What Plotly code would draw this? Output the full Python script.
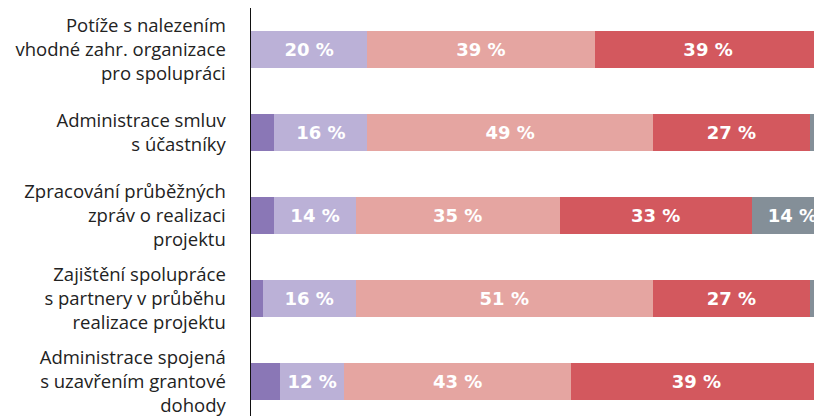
import plotly.graph_objects as go

categories = [
    "Potíže s nalezením<br>vhodné zahr. organizace<br>pro spolupráci",
    "Administrace smluv<br>s účastníky",
    "Zpracování průběžných<br>zpráv o realizaci<br>projektu",
    "Zajištění spolupráce<br>s partnery v průběhu<br>realizace projektu",
    "Administrace spojená<br>s uzavřením grantové<br>dohody",
]

# segment widths (%)
s1 = [0, 4, 4, 2, 5]
s2 = [20, 16, 14, 16, 11]
s3 = [39, 49, 35, 51, 39]
s4 = [39, 27, 33, 27, 43]
s5 = [2, 4, 14, 4, 2]

# labels printed on the segments
t1 = ["", "", "", "", ""]
t2 = ["20 %", "16 %", "14 %", "16 %", "12 %"]
t3 = ["39 %", "49 %", "35 %", "51 %", "43 %"]
t4 = ["39 %", "27 %", "33 %", "27 %", "39 %"]
t5 = ["", "", "14 %", "", ""]

colors = ["#8a77b6", "#bbb1d7", "#e5a5a1", "#d3585e", "#848f98"]

fig = go.Figure()
for vals, txt, col in zip([s1, s2, s3, s4, s5], [t1, t2, t3, t4, t5], colors):
    fig.add_trace(go.Bar(
        y=list(range(len(categories))), x=vals, orientation="h",
        marker=dict(color=col, line=dict(width=0)),
        text=txt, textposition="inside", insidetextanchor="middle",
        textangle=0, constraintext="none",
        textfont=dict(color="white", size=18, family="DejaVu Sans", weight="bold"),
        width=0.45, hoverinfo="skip", showlegend=False,
    ))

fig.update_layout(
    barmode="stack",
    width=814, height=416,
    margin=dict(l=251, r=0, t=8, b=0),
    paper_bgcolor="white", plot_bgcolor="white",
    font=dict(family="Open Sans", color="#1a1a1a"),
    uniformtext=dict(mode=False),
)
fig.update_xaxes(range=[0, 96.7], visible=False, showgrid=False, zeroline=False)
fig.update_yaxes(
    range=[4.416, -0.5],
    tickvals=list(range(len(categories))), ticktext=categories,
    tickfont=dict(size=18.5, family="Open Sans", color="#222222"),
    showline=True, linecolor="#111111", linewidth=1.5,
    showgrid=False, zeroline=False, ticks="", ticklabelstandoff=20,
    ticklabeloverflow="allow",
)

fig.write_html(
    "out.html",
    config={"displayModeBar": False, "staticPlot": True},
    post_script="document.body.style.margin='0';document.body.style.overflow='hidden';",
)
